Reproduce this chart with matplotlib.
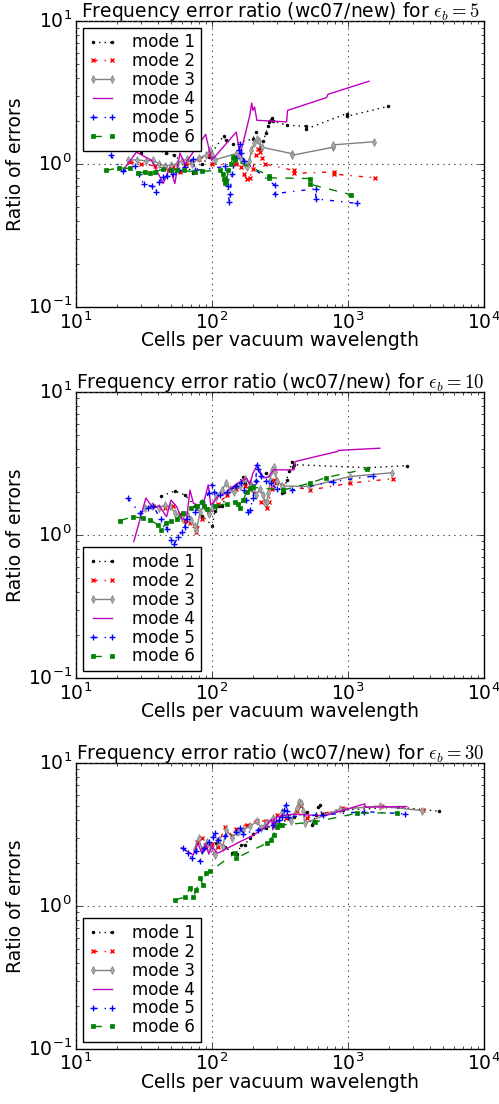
import matplotlib
matplotlib.use("Agg")
import matplotlib.pyplot as plt

# ==========================================
# DATA  (cells per wavelength, error ratio)
# ==========================================

EPS_VALUES = [5, 10, 30]
LABELS = ["mode 1", "mode 2", "mode 3", "mode 4", "mode 5", "mode 6"]

# ---- eps_b = 5 ----
e5_x1 = [30, 38, 46, 53, 63, 73, 85, 95, 122, 128, 143, 200, 212, 225, 238, 250, 258, 265, 270, 277, 283, 354, 489, 489, 977, 977, 1980]
e5_y1 = [1.20, 1.28, 1.19, 1.15, 1.0, 0.86, 1.0, 1.12, 1.57, 1.46, 1.37, 1.50, 1.66, 1.30, 1.45, 1.65, 1.85, 1.98, 2.04, 2.10, 2.00, 1.86, 1.84, 1.75, 2.25, 2.15, 2.53]
e5_x2 = [25, 30, 38, 45, 48, 52, 58, 65, 70, 80, 96, 100, 150, 165, 172, 180, 190, 200, 210, 220, 225, 235, 245, 400, 400, 790, 790, 1580]
e5_y2 = [1.03, 1.0, 0.97, 0.93, 0.90, 0.95, 0.88, 1.0, 1.03, 1.08, 1.15, 1.0, 1.0, 0.95, 0.85, 0.78, 0.80, 0.92, 1.15, 1.28, 1.22, 1.10, 1.0, 0.90, 0.86, 0.88, 0.85, 0.80]
e5_x3 = [24, 28, 33, 37, 41, 45, 50, 55, 60, 66, 72, 80, 90, 97, 100, 106, 150, 165, 175, 182, 188, 195, 205, 215, 222, 232, 388, 388, 780, 780, 1555]
e5_y3 = [1.06, 1.07, 1.05, 1.06, 1.0, 0.97, 0.98, 1.00, 1.05, 1.08, 1.0, 1.10, 1.15, 1.25, 1.15, 1.07, 1.18, 1.08, 1.0, 0.95, 1.05, 1.25, 1.39, 1.50, 1.45, 1.31, 1.18, 1.15, 1.31, 1.36, 1.43]
e5_x4 = [22.3, 27.9, 36, 43.9, 49, 53.4, 58.2, 63.3, 90, 99.5, 151, 161, 190, 196, 200, 206, 214, 354, 360, 695, 713, 1430]
e5_y4 = [0.91, 1.21, 1.06, 0.73, 0.95, 0.73, 1.19, 1.0, 1.61, 1.06, 1.67, 1.15, 2.19, 2.67, 2.37, 2.50, 2.02, 1.97, 2.37, 2.91, 3.07, 3.79]
e5_x5 = [18, 22.3, 27, 29, 31.6, 36, 38.8, 41, 44, 47, 52, 57, 63, 72.9, 75, 125, 128, 131, 134, 136, 140, 150, 159, 161, 165, 172, 290, 290, 580, 580, 1160]
e5_y5 = [1.15, 0.89, 0.97, 0.85, 0.72, 0.70, 0.64, 0.75, 0.81, 0.82, 0.85, 0.90, 0.95, 1.09, 0.90, 0.96, 0.79, 0.70, 0.54, 0.62, 0.85, 1.10, 1.25, 1.37, 1.20, 1.05, 0.71, 0.62, 0.67, 0.57, 0.53]
e5_x6 = [16.6, 20.8, 25, 28.7, 32, 35, 38, 43.9, 50, 55, 62, 75, 84, 115, 120, 123, 125, 128, 132, 138, 143, 147, 264, 264, 530, 530, 1050]
e5_y6 = [0.90, 0.94, 0.93, 0.86, 0.88, 0.86, 0.88, 0.92, 0.90, 0.91, 0.90, 0.88, 0.89, 0.90, 0.85, 0.78, 0.74, 0.76, 0.90, 1.0, 1.11, 1.06, 0.83, 0.80, 0.79, 0.72, 0.61]

# ---- eps_b = 10 ----
e10_x1 = [42.6, 53.4, 63.3, 75, 85, 101, 105, 112, 118, 130, 150, 169, 175, 190, 210, 250, 275, 300, 325, 340, 354, 370, 388, 395, 400, 1400, 2730]
e10_y1 = [1.87, 2.03, 1.90, 1.60, 1.35, 1.16, 1.46, 1.58, 1.60, 1.90, 2.20, 2.53, 2.30, 2.10, 2.40, 2.70, 2.40, 2.30, 1.96, 2.01, 2.42, 2.80, 3.26, 3.00, 3.10, 2.95, 3.05]
e10_x2 = [37, 45, 52, 58, 63, 69, 77, 85, 95, 110, 130, 150, 175, 200, 230, 253, 262, 275, 284, 295, 526, 1035, 2130]
e10_y2 = [1.58, 1.55, 1.60, 1.40, 1.25, 1.21, 1.05, 1.30, 1.45, 1.65, 1.90, 2.10, 2.20, 2.05, 1.70, 1.54, 1.70, 2.10, 2.42, 2.30, 2.06, 2.30, 2.47]
e10_x3 = [32, 36, 41, 45, 49, 54, 60, 66, 70.5, 75, 77, 82, 88, 95, 100, 108, 118, 128, 135, 145, 160, 175, 190, 200, 212, 225, 238, 246, 253, 260, 268, 276, 284, 292, 300, 330, 520, 1035, 2100]
e10_y3 = [1.54, 1.60, 1.55, 1.62, 1.58, 1.42, 1.31, 1.40, 1.27, 1.15, 1.08, 1.45, 1.60, 1.40, 1.55, 1.85, 2.05, 2.30, 2.10, 2.00, 2.20, 2.45, 2.30, 2.10, 1.90, 2.10, 1.90, 1.67, 1.71, 1.96, 2.40, 2.85, 3.00, 2.75, 2.40, 2.20, 2.18, 2.56, 2.72]
e10_x4 = [26.7, 32.7, 37, 41, 46.4, 50, 55, 60, 65, 69, 73, 80, 88, 94, 98, 103, 110, 125, 140, 160, 180, 190, 200, 214, 225, 240, 260, 284, 400, 410, 843, 850, 1718]
e10_y4 = [0.90, 1.81, 1.54, 1.60, 1.34, 1.75, 1.58, 1.30, 1.27, 2.06, 1.67, 1.60, 1.75, 2.24, 1.62, 1.70, 1.85, 1.95, 2.15, 2.35, 2.49, 2.25, 2.70, 3.04, 2.80, 2.50, 2.55, 2.85, 2.85, 3.26, 3.84, 3.90, 4.04]
e10_x5 = [24, 29.6, 34, 37, 42, 47, 50, 53, 56.5, 60, 63, 66, 75, 85, 95, 99.5, 103, 115, 130, 150, 165, 172, 178, 185, 190, 200, 210, 214, 220, 230, 250, 270, 300, 388, 780, 1540]
e10_y5 = [1.81, 1.42, 1.55, 1.58, 1.30, 1.10, 0.92, 0.87, 0.97, 1.05, 1.14, 1.30, 1.45, 1.70, 1.95, 2.24, 2.00, 1.90, 2.00, 2.20, 2.30, 2.05, 1.76, 1.45, 1.49, 1.80, 2.40, 3.09, 2.90, 2.60, 2.40, 2.30, 2.10, 2.06, 2.36, 2.58]
e10_x6 = [21.1, 26.4, 31, 35, 40.3, 42.6, 46, 50, 55, 61.3, 70, 78, 84, 88, 92, 105, 130, 148, 155, 161, 170, 180, 190, 200, 333, 526, 688, 1370]
e10_y6 = [1.26, 1.34, 1.31, 1.28, 1.17, 1.08, 1.22, 1.25, 1.30, 1.42, 1.55, 1.60, 1.71, 1.60, 1.52, 1.60, 1.65, 1.71, 1.65, 1.54, 1.75, 2.00, 2.12, 2.15, 2.06, 2.30, 2.52, 2.89]

# ---- eps_b = 30 ----
e30_x1 = [108, 111, 125, 140, 152, 165, 175, 190, 200, 250, 300, 400, 500, 540, 560, 580, 600, 623, 640, 925, 2350, 4660]
e30_y1 = [2.74, 2.89, 2.60, 2.34, 2.30, 2.67, 2.67, 3.00, 3.19, 3.50, 3.70, 4.20, 4.50, 3.68, 3.90, 4.30, 4.90, 5.08, 4.40, 4.68, 4.90, 4.59]
e30_x2 = [78, 84, 90, 100, 110, 125, 140, 150, 180, 214, 250, 300, 350, 420, 450, 500, 900, 1750, 3560]
e30_y2 = [2.80, 2.97, 2.55, 2.70, 2.60, 3.58, 3.10, 3.45, 3.70, 3.95, 3.90, 4.30, 4.10, 4.60, 5.00, 4.10, 4.80, 5.00, 4.68]
e30_x3 = [75, 80, 85, 92, 98, 105, 112, 120, 128, 140, 155, 170, 190, 214, 230, 250, 280, 300, 330, 380, 420, 440, 455, 470, 480, 873, 1718, 3500]
e30_y3 = [2.50, 2.97, 2.45, 2.80, 2.55, 2.27, 2.90, 2.60, 3.40, 3.00, 3.30, 3.40, 3.60, 3.89, 3.50, 3.80, 4.10, 3.70, 4.50, 3.90, 4.80, 5.36, 5.22, 4.60, 3.78, 4.74, 4.98, 4.64]
e30_x4 = [59.7, 63.3, 73, 79, 84, 90, 95, 100, 106, 111, 161, 200, 240, 275, 280, 285, 290, 300, 393, 675, 1330, 1340, 2700]
e30_y4 = [2.55, 2.46, 2.27, 2.74, 2.35, 2.70, 2.30, 2.65, 2.40, 2.34, 2.81, 3.10, 3.50, 4.00, 3.40, 4.10, 3.50, 4.20, 4.38, 4.26, 5.17, 4.90, 4.95]
e30_x5 = [61.3, 67, 71, 76, 81.6, 88, 95, 102, 106, 110, 125, 150, 161, 170, 220, 280, 310, 325, 340, 350, 355, 360, 657, 1310, 2620]
e30_y5 = [2.53, 2.35, 2.15, 2.40, 2.06, 2.55, 2.80, 3.05, 3.22, 2.90, 3.10, 3.30, 3.49, 3.20, 3.40, 3.70, 4.00, 4.20, 4.70, 5.08, 4.60, 4.20, 4.32, 4.56, 4.40]
e30_x6 = [53.4, 63.3, 68.9, 73, 77, 81.6, 86, 91, 96.6, 148, 150, 252, 270, 284, 300, 310, 325, 570, 1160, 2300]
e30_y6 = [1.10, 1.15, 1.33, 1.15, 1.30, 1.56, 1.40, 1.69, 1.74, 2.34, 2.15, 2.74, 2.90, 3.14, 3.58, 3.65, 3.68, 3.86, 4.44, 4.48]

# ==========================================
# STYLE
# ==========================================

plt.style.use("classic")
plt.rcParams["figure.facecolor"] = "white"
plt.rcParams["savefig.facecolor"] = "white"

STYLES = [
    dict(color="k", linestyle=":", marker=".", markersize=4),
    dict(color="r", linestyle="-.", marker="x", markersize=3, markeredgewidth=1),
    dict(color="gray", linestyle="-", marker="d", markersize=4, markerfacecolor="darkgray", markeredgecolor="gray"),
    dict(color="m", linestyle="-", marker=None),
    dict(color="b", linestyle="-.", marker="+", markersize=5, markeredgewidth=1),
    dict(color="g", linestyle="--", marker="s", markersize=3, markeredgecolor="g"),
]

panels = [
    (5, [(e5_x1, e5_y1), (e5_x2, e5_y2), (e5_x3, e5_y3), (e5_x4, e5_y4), (e5_x5, e5_y5), (e5_x6, e5_y6)], "upper left"),
    (10, [(e10_x1, e10_y1), (e10_x2, e10_y2), (e10_x3, e10_y3), (e10_x4, e10_y4), (e10_x5, e10_y5), (e10_x6, e10_y6)], "lower left"),
    (30, [(e30_x1, e30_y1), (e30_x2, e30_y2), (e30_x3, e30_y3), (e30_x4, e30_y4), (e30_x5, e30_y5), (e30_x6, e30_y6)], "lower left"),
]

fig = plt.figure(figsize=(4.99, 11.04), dpi=100)

bottoms = [0.722, 0.386, 0.050]
for (eps, series, loc), bottom in zip(panels, bottoms):
    ax = fig.add_axes([0.152, bottom, 0.818, 0.259])
    for (xs, ys), st, lab in zip(series, STYLES, LABELS):
        ax.plot(xs, ys, label=lab, linewidth=1, **st)
    ax.set_xscale("log")
    ax.set_yscale("log")
    ax.set_xlim(10, 1e4)
    ax.set_ylim(0.1, 10)
    ax.grid(True, which="major", color="0.3", linestyle=":", linewidth=0.8)
    ax.set_title(r"Frequency error ratio (wc07/new) for $\epsilon_b = %d$" % eps, fontsize=13.5, pad=3)
    ax.set_xlabel("Cells per vacuum wavelength", fontsize=13.5, labelpad=-1)
    ax.set_ylabel("Ratio of errors", fontsize=13.5, labelpad=2)
    ax.tick_params(labelsize=13.5, pad=3)
    ax.legend(loc=loc, fontsize=12, numpoints=2, labelspacing=0.05, fancybox=False,
              handlelength=1.7, handletextpad=0.9, borderpad=0.35, borderaxespad=0.4)

fig.savefig("out.png", dpi=100)
